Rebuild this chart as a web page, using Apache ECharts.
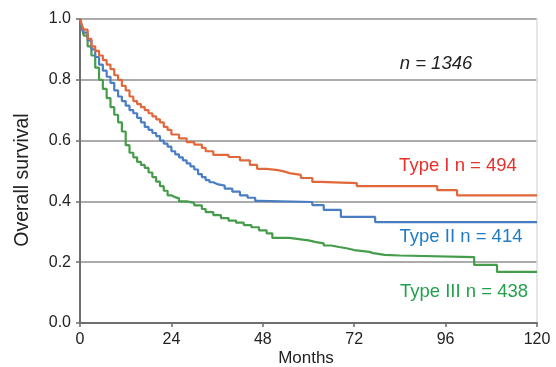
<!DOCTYPE html>
<html>
<head>
<meta charset="utf-8">
<script src="https://cdn.jsdelivr.net/npm/echarts@6/dist/echarts.min.js"></script>
<style>html,body{margin:0;padding:0;background:#fff}#c{width:556px;height:367px}</style>
</head>
<body>
<div id="c"></div>
<script>
var xTicks = [0, 24, 48, 72, 96, 120];
var yTicks = [0.0, 0.2, 0.4, 0.6, 0.8, 1.0];
var seriesNames = ['Type I n = 494', 'Type II n = 414', 'Type III n = 438'];
var totalLabel = 'n = 1346';
var xTitle = 'Months';
var yTitle = 'Overall survival';

var typeI = [[0,1.0],[0.5,0.98],[1,0.965],[2,0.935],[3,0.91],[4,0.895],[5,0.88],[6,0.865],[7,0.85],[8,0.835],[9,0.815],[10,0.80],[11,0.78],[12,0.765],[13,0.745],[14,0.73],[15,0.72],[16,0.71],[17,0.70],[18,0.69],[19,0.68],[20,0.67],[21,0.66],[22,0.645],[23,0.635],[24,0.62],[26,0.607],[28,0.595],[30,0.587],[32,0.576],[33,0.565],[35,0.553],[39,0.546],[42,0.535],[44.6,0.52],[46.5,0.507],[49,0.503],[52,0.497],[54,0.493],[55,0.487],[58,0.477],[61,0.464],[63,0.46],[72.7,0.45],[93.8,0.437],[99,0.42],[120,0.42]];
var typeII = [[0,1.0],[0.5,0.975],[1,0.955],[2,0.93],[3,0.90],[4,0.875],[5,0.85],[6,0.83],[7,0.81],[8,0.79],[9,0.765],[10,0.745],[11,0.73],[12,0.715],[13,0.70],[14,0.69],[15,0.675],[16,0.66],[17,0.645],[18,0.635],[19,0.625],[20,0.615],[21,0.60],[22,0.59],[23,0.58],[24,0.565],[25,0.555],[26,0.545],[27,0.535],[28,0.525],[29,0.515],[30,0.505],[31,0.49],[32,0.48],[33,0.47],[34,0.463],[35,0.457],[36,0.452],[38,0.442],[40,0.432],[42,0.42],[44,0.412],[46,0.402],[47,0.398],[61,0.388],[64,0.372],[68.5,0.349],[77.5,0.332],[120,0.332]];
var typeIII = [[0,1.0],[0.5,0.97],[1,0.945],[2,0.91],[3,0.88],[4,0.84],[5,0.80],[6,0.77],[7,0.74],[8,0.71],[9,0.685],[10,0.66],[11,0.63],[12,0.585],[13,0.56],[14,0.545],[15,0.53],[16,0.52],[17,0.51],[18,0.495],[19,0.48],[20,0.465],[21,0.45],[22,0.435],[23,0.42],[24,0.414],[25,0.41],[26,0.40],[28,0.395],[30,0.387],[32,0.375],[33,0.365],[35,0.355],[37,0.345],[39,0.337],[41,0.33],[43,0.322],[45,0.315],[47,0.305],[49,0.295],[50.5,0.28],[55,0.275],[58,0.272],[60,0.266],[62,0.262],[64,0.255],[66,0.25],[68,0.246],[70,0.24],[72,0.234],[76,0.23],[77,0.224],[80,0.222],[84,0.217],[103.5,0.191],[109.5,0.168],[120,0.168]];

var lineColors = ['#e2683c', '#4a7ec2', '#459c4a'];
var textColors = ['#e8302a', '#1f7cc4', '#22a04c'];
var font = '"Liberation Sans", Arial, Helvetica, sans-serif';

var chart = echarts.init(document.getElementById('c'), null, {renderer: 'canvas'});
var datasets = [typeI, typeII, typeIII];
var series = datasets.map(function (d, i) {
  return {
    name: seriesNames[i], type: 'line', step: 'end', data: d,
    showSymbol: false, symbol: 'none', animation: false,
    lineStyle: {color: lineColors[i], width: 2.2}, z: 5 - i
  };
});

chart.setOption({
  animation: false,
  backgroundColor: '#ffffff',
  grid: {left: 80, right: 19, top: 19, bottom: 44},
  xAxis: {
    type: 'value', min: 0, max: 120, interval: 24,
    axisLine: {show: true, lineStyle: {color: '#6e6e6e', width: 2}},
    axisTick: {show: true, length: 4, lineStyle: {color: '#6e6e6e', width: 1.5}},
    axisLabel: {color: '#222', fontSize: 16, fontFamily: font, margin: 9},
    splitLine: {show: false}
  },
  yAxis: [{
    type: 'value', min: 0, max: 1, interval: 0.2,
    axisLine: {show: true, lineStyle: {color: '#6e6e6e', width: 2}},
    axisTick: {show: true, length: 4, lineStyle: {color: '#6e6e6e', width: 1.5}},
    axisLabel: {color: '#222', fontSize: 16, fontFamily: font, margin: 9,
      formatter: function (v) { return v.toFixed(1); }},
    splitLine: {show: true, lineStyle: {color: '#ababab', width: 2}}
  }, {
    type: 'value', min: 0, max: 1, interval: 0.2, position: 'right',
    axisLine: {show: true, lineStyle: {color: '#dcdcdc', width: 1.5}},
    axisTick: {show: false}, axisLabel: {show: false}, splitLine: {show: false}
  }],
  series: series,
  graphic: [
    {type: 'text', x: 436, y: 64, style: {text: totalLabel, font: 'italic 18.5px ' + font, fill: '#222', textAlign: 'center', textVerticalAlign: 'middle'}},
    {type: 'text', x: 458, y: 166, style: {text: seriesNames[0], font: '18.5px ' + font, fill: textColors[0], textAlign: 'center', textVerticalAlign: 'middle'}},
    {type: 'text', x: 461, y: 237, style: {text: seriesNames[1], font: '18.5px ' + font, fill: textColors[1], textAlign: 'center', textVerticalAlign: 'middle'}},
    {type: 'text', x: 464, y: 292, style: {text: seriesNames[2], font: '18.5px ' + font, fill: textColors[2], textAlign: 'center', textVerticalAlign: 'middle'}},
    {type: 'text', x: 306, y: 358, style: {text: xTitle, font: '17px ' + font, fill: '#222', textAlign: 'center', textVerticalAlign: 'middle'}},
    {type: 'text', x: 23, y: 180, rotation: Math.PI / 2, style: {text: yTitle, font: '19.5px ' + font, fill: '#222', textAlign: 'center', textVerticalAlign: 'middle'}}
  ]
});
</script>
</body>
</html>
